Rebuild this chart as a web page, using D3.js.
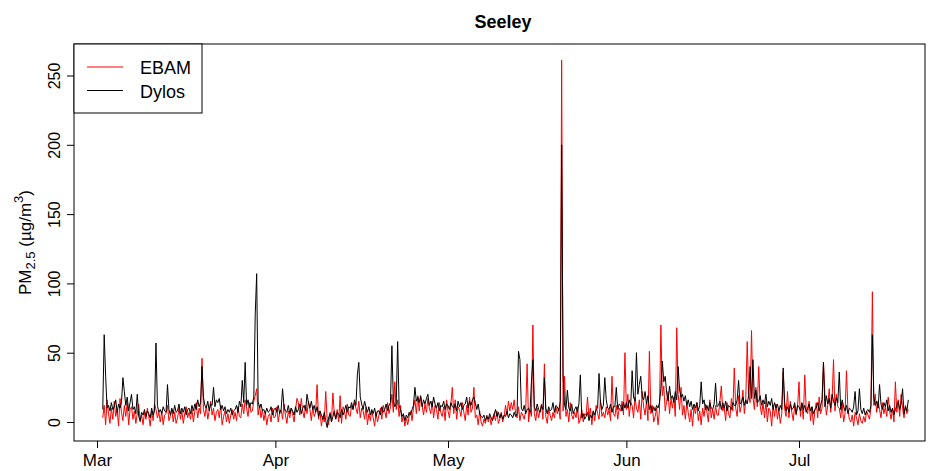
<!DOCTYPE html>
<html><head><meta charset="utf-8">
<script src="https://cdn.jsdelivr.net/npm/d3@7"></script>
<style>
body{margin:0;background:#fff}
text{font-family:"Liberation Sans",Arial,Helvetica,sans-serif;fill:#000}
</style>
</head><body>
<svg id="chart" width="933" height="471"></svg>
<script>
// PM2.5 at Seeley, 6-hourly readings (µg/m3), one array per month
const dylosMar = [
  9,63,33,10, 12,8,14,9, 11,16,7,13, 10,14,32,22, 12,18,8,14, 20,9,11,6, 20,4,1,7, 5,9,4,8, 6,3,10,5, 8,57,12,7,
  9,6,11,8, 7,27,9,5, 10,6,12,7, 8,13,6,10, 7,11,5,9, 10,6,12,8, 13,9,16,11, 14,40,18,12, 10,15,8,13, 12,25,11,16,
  14,17,9,12, 8,11,6,9, 7,10,5,8, 9,12,7,15, 11,30,14,43, 12,16,10,14, 13,18,78,107, 15,10,13,8, 9,6,10,7, 8,11,5,9
];
const ebamMar = [
  3,12,-2,16, 6,-1,10,2, 15,4,9,-3, 17,7,1,12, 4,14,-2,9, 11,2,8,-1, 6,13,0,5, -2,7,2,10, 4,-3,8,1, 13,9,3,7,
  0,8,-2,5, 6,12,1,4, 9,0,7,-1, 3,10,2,8, -1,6,11,3, 7,2,9,0, 8,14,3,10, 6,46,9,4, 12,2,8,15, 5,10,1,7,
  9,3,12,-2, 4,8,0,6, -1,5,9,2, 7,1,11,4, 3,13,6,16, 10,4,14,7, 8,15,19,24, 5,12,3,9, 1,7,-2,4, 6,0,10,3
];
const dylosApr = [
  10,7,12,6, 9,24,11,8, 7,12,6,10, 8,5,11,7, 9,13,6,10, 12,8,20,14, 10,15,9,12, 7,11,4,8, 5,2,7,1, -4,3,6,0,
  4,8,2,7, 6,3,9,5, 8,12,7,11, 10,14,9,16, 12,34,43,18, 13,9,15,11, 7,11,5,9, 6,10,4,8, 8,5,11,7, 9,13,8,12,
  14,55,16,11, 13,58,12,9, 4,6,1,5, 3,7,5,9, 12,25,15,18, 14,19,11,16, 13,17,20,12, 15,11,18,13, 10,14,8,12, 11,15,9,13
];
const ebamApr = [
  4,11,0,7, 9,2,13,5, -1,8,3,10, 6,0,9,17, 14,5,17,8, 3,12,6,15, 9,1,11,4, 7,27,2,8, -3,4,0,22, 2,-2,7,1,
  21,5,3,9, 0,19,-1,11, 8,2,13,5, 4,12,9,14, 10,6,15,3, 10,8,2,11, -2,6,1,8, 3,-3,7,0, 5,10,2,12, 8,3,14,6,
  11,20,7,29, 9,16,4,12, 0,5,-3,3, -2,4,8,1, 10,16,6,19, 8,18,12,5, 13,7,17,10, 6,15,3,12, 9,2,14,7, 4,11,1,16
];
const dylosMay = [
  12,9,14,11, 10,13,8,15, 11,14,9,12, 13,18,10,15, 12,16,18,14, 9,13,6,4, 3,5,1,4, 2,6,3,1, 5,9,4,7, 3,6,2,5,
  4,8,3,6, 5,3,7,4, 6,51,45,10, 8,12,6,9, 10,7,29,45, 11,8,13,9, 7,12,9,32, 10,6,11,8, 9,14,7,12, 11,8,15,200,
  34,12,9,23, 10,8,13,6, 9,11,7,13, 34,3,6,2, 4,7,1,5, 3,8,5,9, 10,35,14,9, 12,32,16,10, 9,13,7,11, 11,25,9,13, 12,8,14,10
];
const ebamMay = [
  8,3,13,25, 6,16,2,11, 9,4,14,7, 1,12,5,18, 7,10,25,3, 5,-2,8,0, -3,2,-1,5, 0,4,-2,3, 6,1,8,-1, 2,7,0,4,
  12,5,15,8, 14,9,16,6, 3,11,1,7, 5,2,8,42, 0,9,4,70, 6,1,10,3, 8,13,2,42, 4,-1,9,5, 1,7,3,11, 6,10,2,261,
  8,33,4,9, 0,14,5,2, 7,3,11,-1, 2,9,0,6, 5,18,3,10, -2,8,1,12, 6,2,16,4, 7,3,11,5, 9,1,33,6, 4,12,2,10, 8,15,5,50
];
const dylosJun = [
  14,10,16,12, 37,18,15,50, 20,27,33,18, 16,22,13,19, 9,12,7,11, 8,12,10,14, 24,44,29,33, 21,15,26,17, 19,14,22,16, 40,23,18,20,
  15,19,12,16, 11,15,9,13, 10,14,8,12, 29,13,16,9, 12,8,14,10, 9,13,28,11, 12,15,9,14, 10,15,8,12, 11,9,14,12, 12,16,30,13,
  14,18,12,16, 13,19,40,17, 45,17,23,14, 15,19,12,16, 13,20,11,15, 12,17,9,14, 10,13,8,12, 9,39,14,8, 11,7,13,9, 10,14,6,12
];
const ebamJun = [
  9,20,4,14, 12,3,18,10, 7,16,2,22, 11,5,15,1, 51,6,12,0, 4,10,-2,8, 70,19,26,8, 15,22,6,17, 10,18,4,68, 20,9,25,5,
  12,2,14,7, 0,9,-3,11, 6,14,1,8, -2,10,4,13, 7,0,16,3, 9,2,12,5, 5,15,26,8, 11,1,14,6, 3,17,8,39, 10,4,19,7,
  12,23,6,16, 58,21,14,66, 18,9,25,11, 40,12,5,14, 3,15,0,10, 8,-3,12,4, 13,2,9,-1, 6,36,10,4, 22,3,15,7, 1,12,5,11
];
const dylosJul = [
  11,8,14,9, 12,7,10,13, 8,11,6,9, 10,14,8,12, 16,43,11,19, 13,17,10,20, 15,12,18,14, 36,9,16,11, 8,12,6,10, 9,7,11,22,
  5,8,24,9, 6,10,5,8, 9,7,12,63, 18,12,15,10, 27,13,9,14, 11,16,8,12, 7,10,5,9, 12,15,9,13, 24,6,11,8, 16
];
const ebamJul = [
  29,4,13,2, 34,9,6,15, 1,11,-2,8, 14,3,18,6, 10,43,20,5, 12,24,7,16, 45,8,20,11, 10,3,14,0, 6,37,9,2, 0,5,-3,7,
  3,-2,6,1, -1,4,0,8, 5,2,10,94, 12,20,7,15, 9,3,14,6, 11,4,18,8, 2,10,0,29, 7,16,4,20, 10,3,12,6, 9
];

// first reading of each monthly block
const chunkStarts = ["2014-03-02", "2014-04-01", "2014-05-01", "2014-06-01", "2014-07-01"];
const monthTicks = ["2014-03-01", "2014-04-01", "2014-05-01", "2014-06-01", "2014-07-01"];
const yTicks = [0, 50, 100, 150, 200, 250];
const seriesNames = ["EBAM", "Dylos"];
const seriesColors = ["#ff0000", "#000000"];

const parse = d3.utcParse("%Y-%m-%d");
const STEP = 6 * 3600 * 1000;

function buildSeries(blocks) {
  return blocks.flatMap((vals, i) => {
    const t0 = parse(chunkStarts[i]).getTime();
    return vals.map((v, j) => ({ t: new Date(t0 + j * STEP), v }));
  });
}

const ebam = buildSeries([ebamMar, ebamApr, ebamMay, ebamJun, ebamJul]);
const dylos = buildSeries([dylosMar, dylosApr, dylosMay, dylosJun, dylosJul]);

const svg = d3.select("#chart");
const box = { left: 74, right: 925, top: 44, bottom: 441 };

svg.append("rect").attr("width", 933).attr("height", 471).attr("fill", "#fff");

const x = d3.scaleUtc()
  .domain([parse(monthTicks[0]), parse(monthTicks[4])])
  .range([97, 799]);
const y = d3.scaleLinear().domain([0, 250]).range([422, 75.5]);

svg.append("clipPath").attr("id", "plotclip")
  .append("rect")
  .attr("x", box.left).attr("y", box.top)
  .attr("width", box.right - box.left).attr("height", box.bottom - box.top);

const line = d3.line().x(d => x(d.t)).y(d => y(d.v));

const plot = svg.append("g").attr("clip-path", "url(#plotclip)");
[ebam, dylos].forEach((data, i) => {
  plot.append("path")
    .datum(data)
    .attr("fill", "none")
    .attr("stroke", seriesColors[i])
    .attr("stroke-width", 1)
    .attr("stroke-linejoin", "miter")
    .attr("d", line);
});

// y axis
const yAxis = svg.append("g")
  .attr("transform", `translate(${box.left},0)`)
  .call(d3.axisLeft(y).tickValues(yTicks).tickSize(7).tickSizeOuter(0));
yAxis.select(".domain").remove();
yAxis.selectAll("line").attr("stroke", "#000");
yAxis.selectAll("text")
  .attr("x", 0).attr("y", -14).attr("dy", 0)
  .attr("transform", "rotate(-90)")
  .attr("text-anchor", "middle")
  .style("font-size", "16px")
  .style("font-family", '"Liberation Sans", Arial, sans-serif')
  .attr("fill", "#000");

// x axis
const xAxis = svg.append("g")
  .attr("transform", `translate(0,${box.bottom})`)
  .call(d3.axisBottom(x).tickValues(monthTicks.map(parse))
    .tickFormat(d3.utcFormat("%b")).tickSize(7).tickSizeOuter(0));
xAxis.select(".domain").remove();
xAxis.selectAll("line").attr("stroke", "#000");
xAxis.selectAll("text")
  .attr("y", 25).attr("dy", 0)
  .style("font-size", "17px")
  .style("font-family", '"Liberation Sans", Arial, sans-serif')
  .attr("fill", "#000");

// plot frame
svg.append("rect")
  .attr("x", box.left).attr("y", box.top)
  .attr("width", box.right - box.left).attr("height", box.bottom - box.top)
  .attr("fill", "none").attr("stroke", "#000").attr("stroke-width", 1);

// title
svg.append("text")
  .attr("x", 503).attr("y", 28)
  .attr("text-anchor", "middle")
  .style("font-size", "18px").style("font-weight", "bold")
  .text("Seeley");

// y axis title with sub/superscripts
const yl = svg.append("text")
  .attr("transform", `translate(31,${(box.top + box.bottom) / 2}) rotate(-90)`)
  .attr("text-anchor", "middle")
  .style("font-size", "17px");
yl.append("tspan").text("PM");
yl.append("tspan").attr("dy", 4).style("font-size", "13px").text("2.5");
yl.append("tspan").attr("dy", -4).text(" (µg/m");
yl.append("tspan").attr("dy", -8).style("font-size", "13px").text("3");
yl.append("tspan").attr("dy", 8).text(")");

// legend
const lg = svg.append("g");
lg.append("rect")
  .attr("x", box.left).attr("y", box.top)
  .attr("width", 128).attr("height", 69)
  .attr("fill", "#fff").attr("stroke", "#000").attr("stroke-width", 1);
seriesNames.forEach((name, i) => {
  const ly = 67 + i * 23.5;
  lg.append("line")
    .attr("x1", 87).attr("x2", 123).attr("y1", ly).attr("y2", ly)
    .attr("stroke", seriesColors[i]).attr("stroke-width", 1);
  lg.append("text")
    .attr("x", 140).attr("y", ly + 7)
    .style("font-size", "18px")
    .text(name);
});
</script>
</body></html>
